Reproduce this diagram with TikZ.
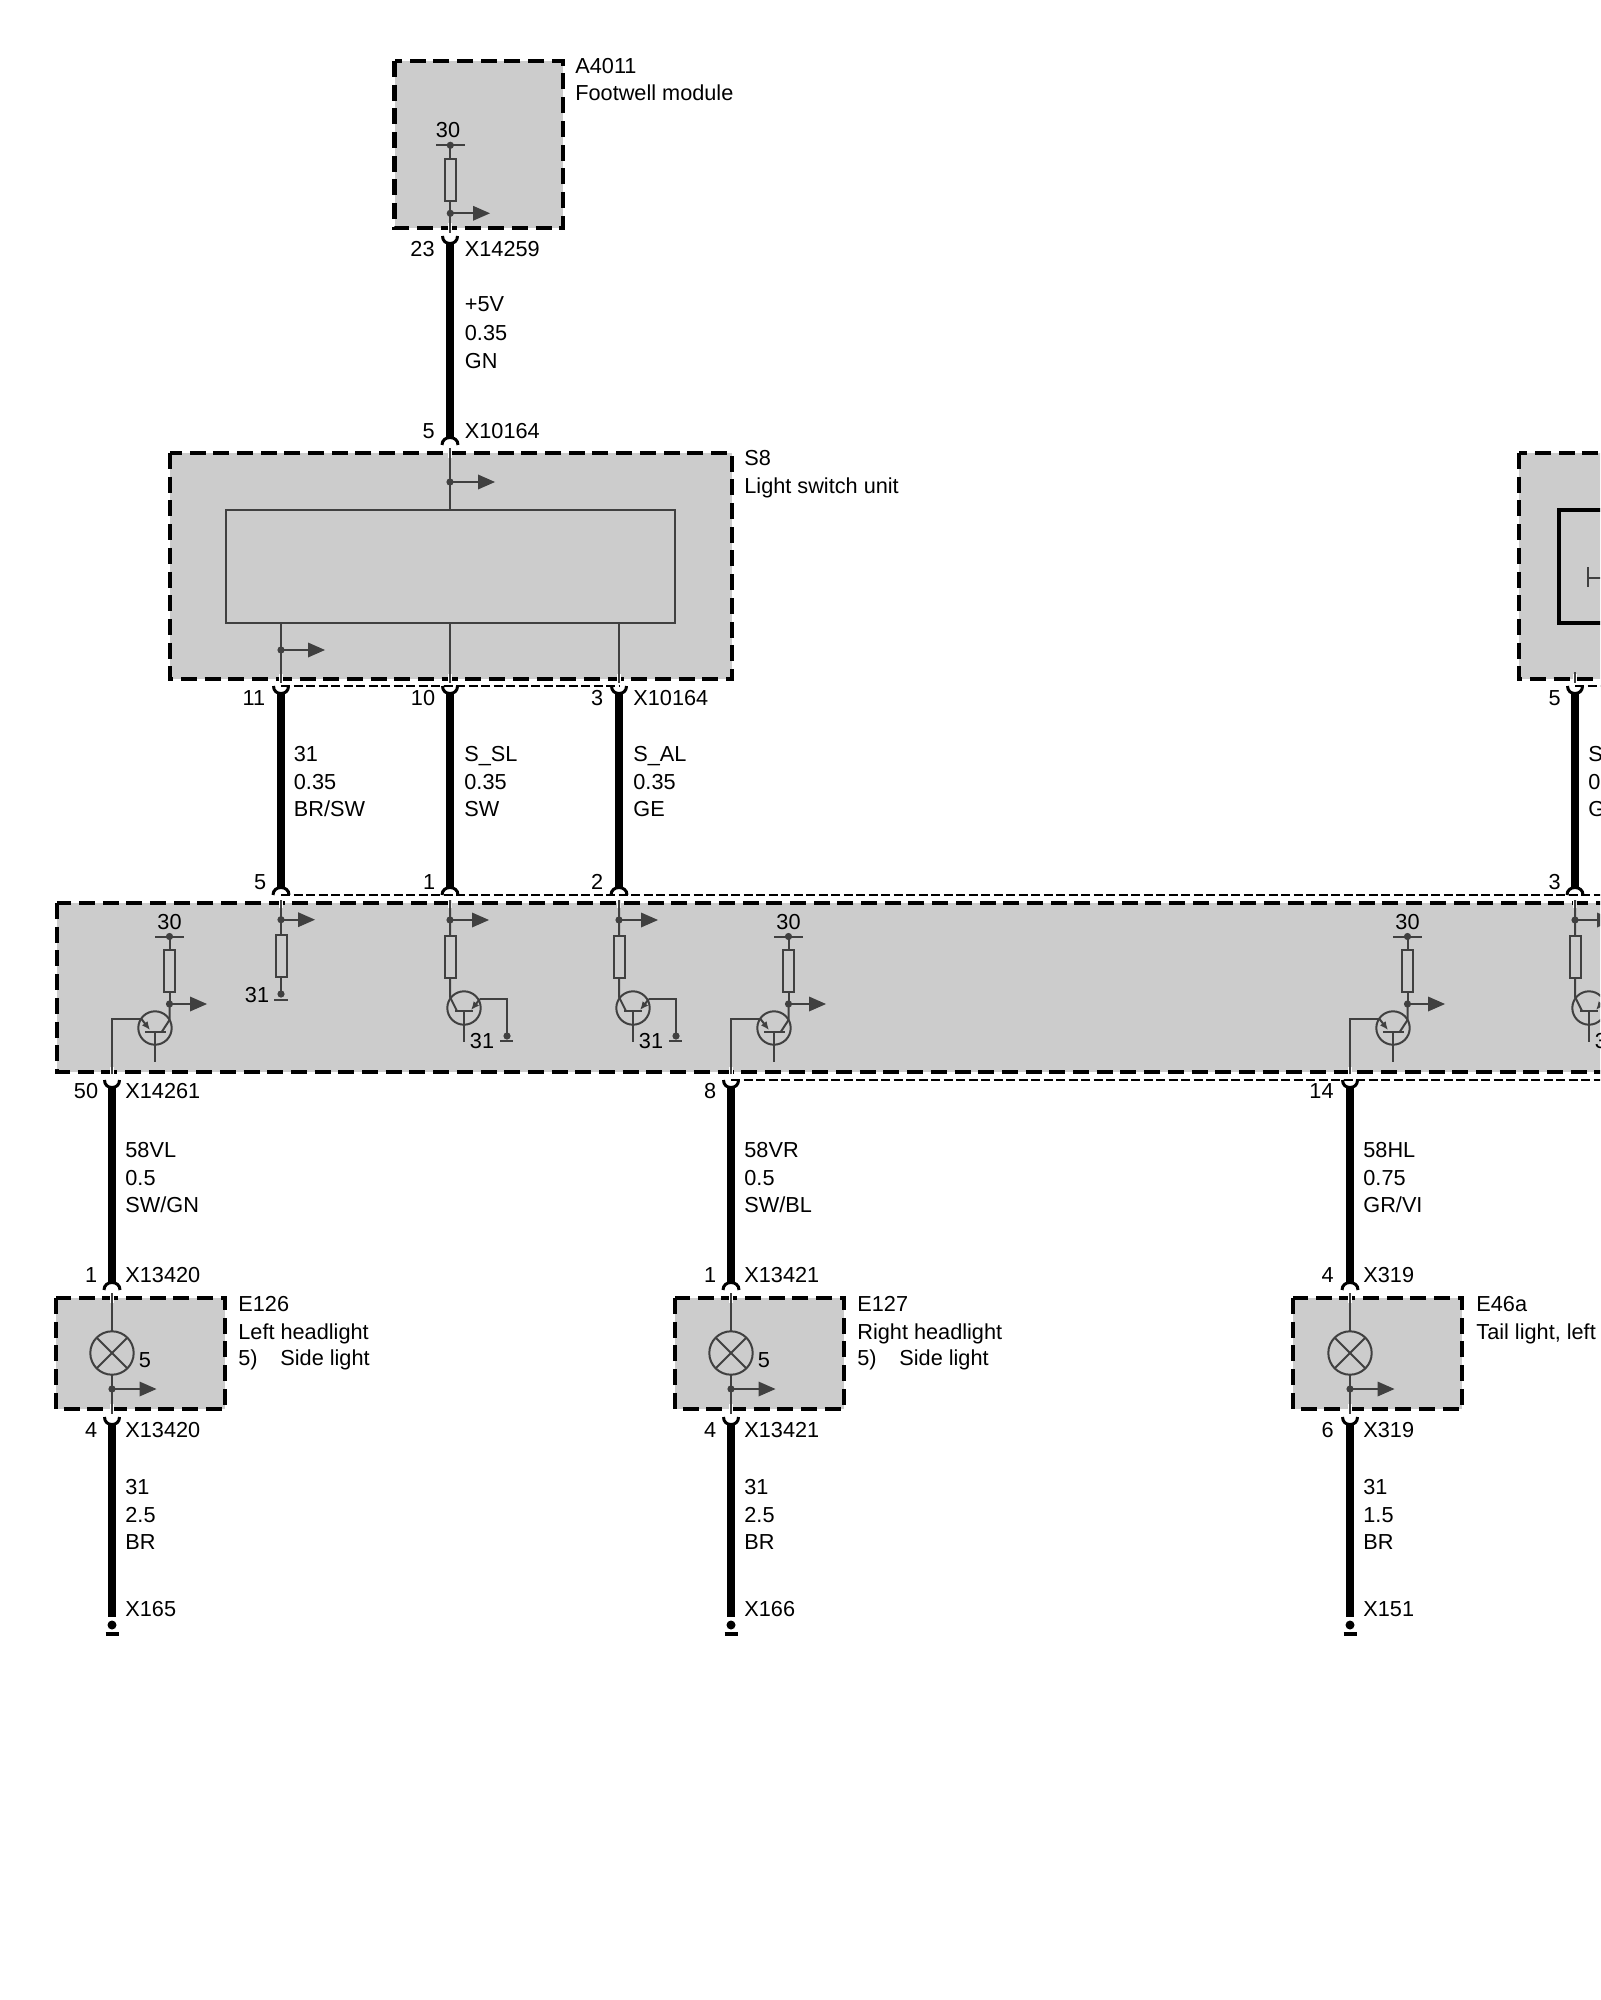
\documentclass[tikz,border=0pt]{standalone}
\usepackage{fontspec}
\setmainfont{Liberation Sans}
\usetikzlibrary{arrows.meta,calc}
\definecolor{wg}{HTML}{404040}
\definecolor{bg}{HTML}{CCCCCC}
\newcounter{lblcnt}
\tikzset{
  modbox/.style={fill=bg,draw=black,line width=2.2pt,dash pattern=on 8pt off 3.85pt},
  thinw/.style={draw=wg,line width=1pt},
  harness/.style={draw=black,line width=3.8pt},
  socket/.style={draw=black,line width=1.5pt},
  halo/.style={draw=white,line width=2.2pt},
  seam/.style={draw=black,line width=0.55pt,dash pattern=on 4.5pt off 1.75pt},
  jdot/.style={fill=wg,draw=none},
  head/.style={fill=wg,draw=none},
  tiparrow/.style={thinw,-{Latex[length=4.2pt,width=3.6pt]}},
  lab/.style={inner sep=0pt,text height=7.7pt,text depth=0pt,font=\fontsize{10.85}{13}\selectfont},
  labr/.style={lab,anchor=east},
  labl/.style={lab,anchor=west},
  labc/.style={lab,anchor=center},
}
% text helpers
\newcommand\tl[3]{\stepcounter{lblcnt}\node[labl] (t\thelblcnt) at (#1,#2) {#3};}
\newcommand\tr[3]{\stepcounter{lblcnt}\node[labr] (t\thelblcnt) at (#1,#2) {#3};}
\newcommand\tc[3]{\stepcounter{lblcnt}\node[labc] (t\thelblcnt) at (#1,#2) {#3};}
\newcommand\wirelabels[5]{\tl{#1}{#2}{#3}\tl{#1}{#2+27.5}{#4}\tl{#1}{#2+55}{#5}}
% harness wire: name, x, U-top y, cap-base y
\newcommand\hwire[4]{%
  \coordinate (#1-t) at (#2,#3+7);
  \coordinate (#1-b) at (#2,#4-8);
  \draw[harness] (#1-t) -- (#1-b);
  \draw[socket] (#2-7.5,#3) .. controls (#2-7.5,#3+5) and (#2-4,#3+7.5) .. (#2,#3+7.5)
                .. controls (#2+4,#3+7.5) and (#2+7.5,#3+5) .. (#2+7.5,#3);
  \draw[socket] (#2-8,#4) .. controls (#2-8,#4-5) and (#2-4,#4-7.5) .. (#2,#4-7.5)
                .. controls (#2+4,#4-7.5) and (#2+8,#4-5) .. (#2+8,#4);
}
% U socket only with harness going to a ground
\newcommand\gwire[4]{%
  \coordinate (#1-t) at (#2,#3+7);
  \coordinate (#1-b) at (#2,#4);
  \draw[harness] (#1-t) -- (#1-b);
  \draw[socket] (#2-7.5,#3) .. controls (#2-7.5,#3+5) and (#2-4,#3+7.5) .. (#2,#3+7.5)
                .. controls (#2+4,#3+7.5) and (#2+7.5,#3+5) .. (#2+7.5,#3);
  \fill[black] (#2,#4+8) circle[radius=4.5];
  \draw[black,line width=1.6pt] (#2-6.5,#4+17) -- (#2+6.5,#4+17);
}
% tap: x, y, end x of arrow tip
\newcommand\tap[3]{%
  \fill[jdot] (#1,#2) circle[radius=3.6];
  \draw[thinw] (#1,#2) -- (#3-16,#2);
  \fill[head] (#3,#2) -- (#3-17,#2-7.5) -- (#3-17,#2+7.5) -- cycle;
}
\newcommand\feed[2]{% halo across a border: x, y
  \draw[halo] (#1,#2-5) -- (#1,#2+5);}
% driver with supply 30: collector-side circuit, #1 = pin wire x
\newcommand\hsdriver[1]{%
\begin{scope}[shift={(#1,0)}]
  \tc{57.5}{922}{30}
  \coordinate (sup) at (57.5,936.5);
  \coordinate (jc) at (57.5,1004);
  \fill[jdot] (sup) circle[radius=3.6];
  \draw[thinw] (43,936.5) -- (72,936.5);
  \draw[thinw] (sup) -- (jc);
  \draw[thinw,fill=bg] (52,950) rectangle (63,992);
  \draw[thinw] (jc) -- (57.5,1020) -- (50,1031.5);
  \tap{57.5}{1004}{95}
  \draw[thinw] (43,1028) circle[radius=16.7];
  \draw[thinw] (33,1031.5) -- (54,1031.5);
  \draw[thinw] (43,1031.5) -- (43,1062);
  \draw[thinw] (0,1074) -- (0,1019) -- (29.5,1019);
  \draw[tiparrow] (29.5,1019) -- (38,1030);
\end{scope}}
% input stage with transistor to ground, #1 = pin wire x
\newcommand\instage[1]{%
\begin{scope}[shift={(#1,0)}]
  \draw[thinw] (0,900) -- (0,997) -- (7,1011);
  \tap{0}{920}{39}
  \draw[thinw,fill=bg] (-5.5,936) rectangle (5.5,978);
  \draw[thinw] (14,1008) circle[radius=16.7];
  \draw[thinw] (5,1011) -- (23,1011);
  \draw[thinw] (14,1011) -- (14,1042);
  \draw[tiparrow] (30,999) -- (21,1010);
  \draw[thinw] (30,999) -- (57,999) -- (57,1036);
  \fill[jdot] (57,1036) circle[radius=3.6];
  \draw[thinw] (50,1041) -- (63,1041);
  \tc{32}{1041}{31}
\end{scope}}
% lamp module: wire x, box left, box right, text x, two texts, extra texts
\newcommand\lampbox[7]{%
  \draw[modbox] (#2,1298) rectangle (#3,1409);
  \tl{#4}{1304}{#5}
  \tl{#4}{1332}{#6}
  #7
  \feed{#1}{1298}\feed{#1}{1409}
  \draw[thinw] (#1,1293) -- (#1,1331.5);
  \draw[thinw] (#1,1374.5) -- (#1,1414);
  \draw[thinw] (#1,1353) circle[radius=21.7];
  \draw[thinw] (#1-15.3,1337.7) -- (#1+15.3,1368.3);
  \draw[thinw] (#1-15.3,1368.3) -- (#1+15.3,1337.7);
  \tap{#1}{1389}{#1+44.5}
}
\begin{document}
\begin{tikzpicture}[x=0.5pt,y=-0.5pt]
\useasboundingbox (0,0) rectangle (1600,2000);
\clip (0,0) rectangle (1600,2000);
\fill[white] (0,0) rectangle (1600,2000);

% seams
\draw[seam] (281,686) -- (619,686);
\draw[seam] (1575,686) -- (1610,686);
\draw[seam] (281,895) -- (1610,895);
\draw[seam] (731,1080) -- (1610,1080);

% modules
\draw[modbox] (394.5,61) rectangle (563,228);
\draw[modbox] (170,453) rectangle (732,679);
\draw[modbox] (1519,453) rectangle (1700,679);
\draw[modbox] (57,903) rectangle (1720,1072);

% harness wires
\hwire{wa}{450}{236}{445}
\hwire{wb}{281}{686}{895}
\hwire{wc}{450}{686}{895}
\hwire{wd}{619}{686}{895}
\hwire{we}{1575}{686}{895}
\hwire{wf}{112}{1080}{1290}
\hwire{wg}{731}{1080}{1290}
\hwire{wh}{1350}{1080}{1290}
\gwire{wi}{112}{1417}{1617}
\gwire{wj}{731}{1417}{1617}
\gwire{wk}{1350}{1417}{1617}

% halos over borders
\foreach \hx/\hy in {450/228,450/453,281/679,450/679,619/679,1575/679,281/903,450/903,619/903,1575/903,112/1072,731/1072,1350/1072}{\feed{\hx}{\hy}}

% Footwell module
\tl{575}{66}{A4011}
\tl{575}{93}{Footwell module}
\tc{448}{130}{30}
\coordinate (fa) at (450.3,145.3);
\coordinate (fb) at (450.3,233);
\fill[jdot] (fa) circle[radius=3.6];
\draw[thinw] (436,145.3) -- (465,145.3);
\draw[thinw] (fa) -- (fb);
\draw[thinw,fill=bg] (445,159) rectangle (456,200.7);
\tap{450.3}{213.3}{490}
\tr{435}{249}{23}
\tl{464.5}{249}{X14259}
\tl{464.5}{304}{+5V}
\tl{464.5}{333}{0.35}
\tl{464.5}{361}{GN}
\tr{435}{431}{5}
\tl{464.5}{431}{X10164}

% S8
\tl{744}{458}{S8}
\tl{744}{486}{Light switch unit}
\draw[thinw] (450,448) -- (450,510);
\tap{450}{482}{495}
\draw[thinw] (226,510) rectangle (675,623);
\draw[thinw] (281,623) -- (281,683);
\draw[thinw] (450,623) -- (450,683);
\draw[thinw] (619,623) -- (619,683);
\tap{281}{650}{325}
\tr{265.5}{698}{11}
\tr{435.5}{698}{10}
\tr{603.5}{698}{3}
\tl{633}{698}{X10164}
\wirelabels{293.5}{754}{31}{0.35}{BR/SW}
\wirelabels{464}{754}{S\_SL}{0.35}{SW}
\wirelabels{633}{754}{S\_AL}{0.35}{GE}
\tr{266.5}{882}{5}
\tr{435.5}{882}{1}
\tr{603.5}{882}{2}

% right module
\draw[black,line width=1.6pt] (1559,510) rectangle (1700,623);
\draw[thinw] (1588,567) -- (1588,587);
\draw[thinw] (1588,577.5) -- (1610,577.5);
\draw[thinw] (1575,672) -- (1575,683);
\tr{1561}{698}{5}
\wirelabels{1588}{754}{S}{0}{G}
\tr{1561}{882}{3}

% bus module
\hsdriver{112}
\hsdriver{731}
\hsdriver{1350}
% plain pull-down at 281
\draw[thinw] (281,900) -- (281,994);
\tap{281}{919.7}{315}
\draw[thinw,fill=bg] (275.5,935) rectangle (286.5,977);
\fill[jdot] (281,994) circle[radius=3.6];
\draw[thinw] (274,1000) -- (288,1000);
\tc{257}{995}{31}
\instage{450}
\instage{619}
\instage{1575}

\tr{98.5}{1091}{50}
\tl{125}{1091}{X14261}
\tr{716.5}{1091}{8}
\tr{1334}{1091}{14}
\wirelabels{125}{1150}{58VL}{0.5}{SW/GN}
\wirelabels{744}{1150}{58VR}{0.5}{SW/BL}
\wirelabels{1363}{1150}{58HL}{0.75}{GR/VI}

\tr{97.5}{1275}{1}
\tl{125}{1275}{X13420}
\tr{716.5}{1275}{1}
\tl{744}{1275}{X13421}
\tr{1334}{1275}{4}
\tl{1363}{1275}{X319}

% lamp modules
\lampbox{112}{56}{225}{238}{E126}{Left headlight}{\tl{238}{1358}{5)}\tl{280}{1358}{Side light}\tc{145}{1360}{5}}
\lampbox{731}{675}{844}{857}{E127}{Right headlight}{\tl{857}{1358}{5)}\tl{899}{1358}{Side light}\tc{764}{1360}{5}}
\lampbox{1350}{1293}{1462}{1476}{E46a}{Tail light, left}{}

\tr{97.5}{1430}{4}
\tl{125}{1430}{X13420}
\tr{716.5}{1430}{4}
\tl{744}{1430}{X13421}
\tr{1334}{1430}{6}
\tl{1363}{1430}{X319}
\wirelabels{125}{1487}{31}{2.5}{BR}
\wirelabels{744}{1487}{31}{2.5}{BR}
\wirelabels{1363}{1487}{31}{1.5}{BR}
\tl{125}{1609}{X165}
\tl{744}{1609}{X166}
\tl{1363}{1609}{X151}
\end{tikzpicture}
\end{document}
